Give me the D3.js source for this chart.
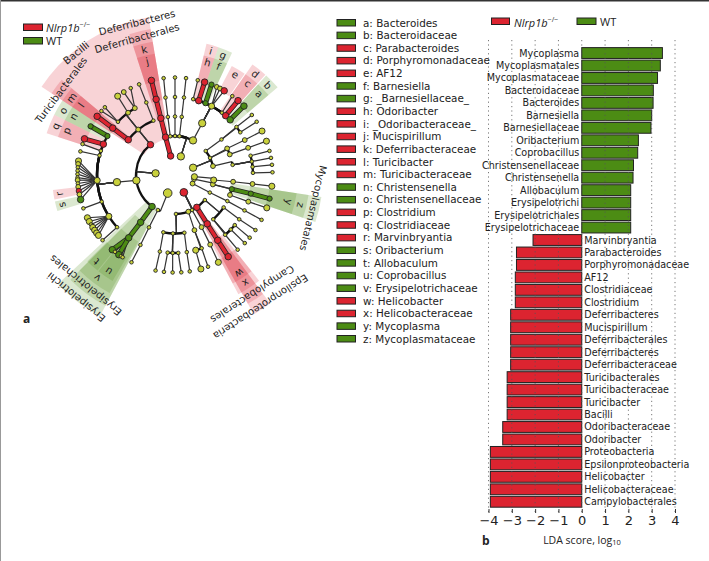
<!DOCTYPE html>
<html><head><meta charset="utf-8">
<script src="https://cdnjs.cloudflare.com/ajax/libs/d3/7.8.5/d3.min.js"></script>
<style>html,body{margin:0;padding:0;background:#fff}svg{display:block}text{font-family:"DejaVu Sans",sans-serif;fill:#222}</style>
</head><body><div id="chart"></div>
<script>
// ---- bar chart data ----
const barNames = ["Mycoplasma","Mycoplasmatales","Mycoplasmataceae","Bacteroidaceae","Bacteroides","Barnesiella","Barnesiellaceae","Oribacterium","Coprobacillus","Christensenellaceae","Christensenella","Allobaculum","Erysipelotrichi","Erysipelotrichales","Erysipelotrichaceae","Marvinbryantia","Parabacteroides","Porphyromonadaceae","AF12","Clostridiaceae","Clostridium","Deferribacteres","Mucispirillum","Deferribacterales","Deferribacteres","Deferribacteraceae","Turicibacterales","Turicibacteraceae","Turicibacter","Bacilli","Odoribacteraceae","Odoribacter","Proteobacteria","Epsilonproteobacteria","Helicobacter","Helicobacteraceae","Campylobacterales"];
const barValues = [3.46,3.37,3.25,3.07,3.06,3.0,2.97,2.43,2.4,2.22,2.2,2.1,2.1,2.1,2.1,-2.09,-2.8,-2.8,-2.85,-2.85,-2.85,-3.05,-3.05,-3.05,-3.05,-3.05,-3.2,-3.2,-3.2,-3.2,-3.39,-3.39,-3.92,-3.92,-3.92,-3.92,-3.92];
const ldaTicks = [-4,-3,-2,-1,0,1,2,3,4];
// ---- clade key ----
const keyNames = ["a: Bacteroides","b: Bacteroidaceae","c: Parabacteroides","d: Porphyromonadaceae","e: AF12","f: Barnesiella","g: _Barnesiellaceae_","h: Odoribacter","i: _Odoribacteraceae_","j: Mucispirillum","k: Deferribacteraceae","l: Turicibacter","m: Turicibacteraceae","n: Christensenella","o: Christensenellaceae","p: Clostridium","q: Clostridiaceae","r: Marvinbryantia","s: Oribacterium","t: Allobaculum","u: Coprobacillus","v: Erysipelotrichaceae","w: Helicobacter","x: Helicobacteraceae","y: Mycoplasma","z: Mycoplasmataceae"];
const keyGroups = "WWNNNWWNNNNNNWWNNNWWWWNNWW".split("");
const groupNames = {N:"Nlrp1b", W:"WT"};
// ---- taxonomy: [clade, parent, bearing in degrees, abundance class] ----
const clades = [
["root",null,0,0],
// Deferribacteres
["D1","root",-13,3],["D2","D1",-14,3],["D3","D2",-14,3],["k","D3",-14,3],["j","k",-14,3],
// Bacteroidetes
["B1","root",17.5,4],
["Ba2","B1",-7,1],["Ba3","Ba2",-7,1],["Ba4","Ba3",-7,1],["Ba5","Ba4",-6.7,1],
["Bb2","B1",0,1],["Bb3","Bb2",0,1],["Bb4","Bb3",0,1],["Bb5","Bb4",0,1],
["Bc2","B1",6.6,1],["Bc3","Bc2",6.6,1],["Bc4","Bc3",6.6,1],["Bc5","Bc4",6.5,1],
["Bd2","B1",27.5,4],["Bd3","Bd2",27.7,4],
["Be4","Bd3",13.5,1],["Be5","Be4",13.5,1],
["i","Bd3",17.7,3],["h","i",17.7,3],
["g","Bd3",23,2],["f","g",22,2],
["Bf4","Bd3",28,3],["Bf5","Bf4",25.4,2],["Bg5","Bf4",27.5,2],["e","Bf4",30.3,3],
["Bh4","Bd3",37,1],["Bh5","Bh4",36,1],
["d","Bd3",40.5,3],["c","d",40.3,3],
["b","Bd3",45,3],["a","b",45,3],
// Firmicutes
["F1","root",-85,4],
["Bac","F1",-39,3],
["Tur","Bac",-53,3],["m","Tur",-53,3],["l","m",-53,3],
["Lac","Bac",-39,2],
["La4","Lac",-47,1],["La5","La4",-46,1],["Lb5","La4",-49,1],
["Lb4","Lac",-37,2],["Lc5","Lb4",-36,3],
["Lc4","Lac",-31,2],["Ld5","Lc4",-31.7,2],["Le5","Lc4",-27,1],
["Bcl","Bac",-21.7,1],["Bl4","Bcl",-21.6,1],["Bl5","Bl4",-21.6,1],
["Clo","F1",-98,4],["Cl3","Clo",-97,4],
["o","Cl3",-60,2],["n","o",-60,2],
["q","Cl3",-66.7,3],["p","q",-68.2,3],
["Cc4","Cl3",-72,1],["Cc5","Cc4",-71.5,1],
["Cd4","Cl3",-75.5,1],["Cd5","Cd4",-76,1],
["Lch","Cl3",-94,3],
["Lh1","Lch",-81.7,3],["Lh2","Lch",-83.5,2],["Lh3","Lch",-85.5,1],["Lh4","Lch",-87.5,1],["Lh5","Lch",-89.5,1],["Lh6","Lch",-91.5,1],["Lh7","Lch",-93,2],["Lh8","Lch",-95,1],["Lh9","Lch",-97,2],["r","Lch",-99.4,2],["Lh10","Lch",-101.5,2],["s","Lch",-104.6,3],
["Ce4","Cl3",-110,1],["Ce5","Ce4",-110,1],
["Rum","Cl3",-122,3],
["Ru1","Rum",-116,3],["Ru2","Rum",-118.5,3],["Ru3","Rum",-120.5,1],["Ru4","Rum",-122.5,3],["Ru5","Rum",-124.5,3],["Ru6","Rum",-126.5,3],["Ru7","Rum",-128.3,3],
["Cf4","Cl3",-132,1],["Cf5","Cf4",-132,1],
["Ery","F1",-144,3],["Er3","Ery",-144,3],["v","Er3",-143.6,3],
["t","v",-140,3],["u","v",-144.8,3],["Ev1","v",-142,1],["Ev2","v",-146.3,1],["Ev3","v",-147.5,1],
// Actinobacteria-like chain
["P4","root",-158,5],["P4c","P4",-154,1],["P4o","P4c",-153.6,1],["P4f","P4o",-153.7,1],["P4g","P4f",-153.5,1],
// Proteobacteria
["Pr","root",153,4],
["Pa2","Pr",178.6,1],
["Pa3","Pa2",191.5,1],["Pa4","Pa3",191.2,1],["Pa5","Pa4",191.5,1],
["Pb3","Pa2",182,1],["Pb4","Pb3",185.4,1],["Pb5","Pb4",186.5,1],["Pc4","Pb3",181.7,1],["Pc5","Pc4",181.4,1],["Pd4","Pb3",177.6,1],["Pd5","Pd4",176.3,1],
["Pe3","Pa2",170.8,1],["Pe4","Pe3",171.3,1],["Pe5","Pe4",171.3,1],
["Pf2","Pr",160,2],["Pf3","Pf2",160.6,2],["Pf4","Pf3",164.6,3],["Pf5","Pf4",164.6,3],["Pg4","Pf3",160,1],["Pg5","Pg4",160.2,1],
["Ph2","Pr",154,1],["Ph3","Ph2",153,2],["Ph4","Ph3",153.2,2],["Ph5","Ph4",153.6,3],
["Eps","Pr",146,3],["Cam","Eps",146.6,3],["x","Cam",146.8,3],["w","x",146.9,3],
["Pi2","Pr",130,1],
["Pi3","Pi2",123.7,1],["Pi4","Pi3",124.6,1],["Pi5","Pi4",124.4,1],
["Pj3","Pi2",139.2,1],["Pj4","Pj3",130,1],["Pj5","Pj4",130,1],["Pk4","Pj3",134.3,1],["Pk5","Pk4",134.3,1],["Pl4","Pj3",140,1],["Pl5","Pl4",140,1],
// Right side phyla
["Q1","root",116,2],["Q2","Q1",116.8,1],["Q3","Q2",116.5,1],["Q4","Q3",117,1],["Q5","Q4",117.4,1],
["T1","root",102,2],["T2","T1",104,2],["Myc","T2",104,2],["z","Myc",103.8,2],["y","z",104,2],
["T3","T2",110,2],["T4","T3",110,2],["T5","T4",109.7,3],
["U1","root",95,3],["U2","U1",97.4,3],["U3","U2",96.6,2],["U4","U3",96.6,2],["U5","U4",96.6,3],
["V1","root",68,4],
["Va2","V1",52,1],["Va3","Va2",52.6,1],["Va4","Va3",52,1],["Va5","Va4",52,1],["Vb4","Va3",56.8,1],["Vb5","Vb4",56.9,1],
["Vc2","V1",64,1],["Vc3","Vc2",63,2],["Vc4","Vc3",63.4,2],["Vc5","Vc4",63.2,3],
["Vd3","Vc2",69.4,2],["Vd4","Vd3",69.6,2],["Vd5","Vd4",69.7,3],
["Ve2","V1",76.8,2],["Ve3","Ve2",80,1],
["Ve4","Ve3",75.7,1],["Ve5","Ve4",75.7,1],["Vf4","Ve3",80,1],["Vf5","Vf4",79.9,1],["Vg4","Ve3",84,1],["Vg5","Vg4",84,1],["Vh4","Ve3",88.4,1],["Vh5","Vh4",88.4,1]
];
const nlrpClades = ["D1","D2","D3","k","j","i","h","e","d","c","Bac","Tur","m","l","q","p","r","Pr","Eps","Cam","x","w"];
const wtClades = ["g","f","b","a","o","n","s","Ery","Er3","v","t","u","Myc","z","y"];
// highlighted clades: [clade, bearing from, bearing to, label, label bearing]
const cladeBands = [
["Bac",-56.5,-18,"Bacilli",-39],["D2",-18,-9.5,"Deferribacteres",-14],["D3",-18,-9.5,"Deferribacterales",-15.5],["k",-18,-9.5,"k"],["j",-18,-9.5,"j"],
["Tur",-56.5,-50,"Turicibacterales"],["m",-56.5,-50,"m"],["l",-56.5,-50,"l"],
["o",-63.5,-56.5,"o"],["n",-63.5,-56.5,"n"],
["q",-72,-63.5,"q"],["p",-72,-63.5,"p"],
["r",-101.5,-97,"r"],["s",-107,-102.5,"s"],
["Ery",-152,-133,"Erysipelotrichi",-141],["Er3",-152,-135,"Erysipelotrichales",-141],["v",-151,-135,"v"],["t",-141,-134.5,"t"],["u",-149.5,-141.5,"u"],
["Eps",143.5,150.5,"Epsilonproteobacteria",147],["Cam",143.5,150.5,"Campylobacterales",147],["x",141.5,152,"x"],["w",141.5,152,"w"],
["Myc",98.5,108.5,"Mycoplasmatales"],["z",98.5,108.5,"z"],["y",98.5,108.5,"y"],
["b",42.5,49.5,"b"],["a",42.5,49.5,"a"],["d",35,42,"d"],["c",35,42,"c"],["e",27.5,34.5,"e"],
["g",18.7,25,"g"],["f",18.7,25,"f"],["i",13.5,18.7,"i"],["h",13.5,18.7,"h"]
];
// ---- drawing ----
const W=709,H=561;
const COL={N:"#dc2430",W:"#4c8c14"}, NODE="#c9d13c";
const svg=d3.select("#chart").append("svg").attr("width",W).attr("height",H);
svg.append("rect").attr("x",0).attr("y",0).attr("width",W).attr("height",1.5).attr("fill","#333");
svg.append("rect").attr("x",0).attr("y",0).attr("width",1).attr("height",H).attr("fill","#999");

// --- cladogram
const cx=175, cy=175;
const plot=svg.append("g").attr("transform",`translate(${cx},${cy})`);
const rad=d3.scaleLinear().domain([0,5]).range([0,97.5]);
const ang=d=>d*Math.PI/180;
const px=(b,r)=>r*Math.sin(ang(b)), py=(b,r)=>-r*Math.cos(ang(b));
const root=d3.stratify().id(d=>d[0]).parentId(d=>d[1])(clades);
const byId=new Map(root.descendants().map(n=>[n.id,n]));
const group=id=>nlrpClades.includes(id)?"N":wtClades.includes(id)?"W":null;
const bandOuter=d3.scaleOrdinal().domain([5,4,3,2]).range([123,135,148,160]);
const labelR=d3.scaleOrdinal().domain([5,4,3,2]).range([117,129,142,157]);
const arc=d3.arc();
cladeBands.forEach(([id,b0,b1])=>{
  const n=byId.get(id), g=group(id);
  plot.append("path").attr("fill",COL[g]).attr("fill-opacity",0.2)
    .attr("d",arc({innerRadius:rad(n.depth)-2,outerRadius:bandOuter(n.depth),startAngle:ang(b0),endAngle:ang(b1)}));
});
cladeBands.forEach(([id,b0,b1,label,lb])=>{
  const n=byId.get(id), mid=lb===undefined?(b0+b1)/2:lb, r=labelR(n.depth);
  plot.append("text").attr("transform",`translate(${px(mid,r)},${py(mid,r)}) rotate(${mid})`)
    .attr("text-anchor","middle").attr("dominant-baseline","central")
    .attr("font-size",10.1).text(label);
});
const links=plot.append("g").attr("fill","none"), hot=plot.append("g").attr("fill","none");
root.descendants().filter(n=>n.depth>=2).forEach(n=>{
  const p=n.parent, pb=p.data[2], cb=n.data[2], rp=rad(p.depth), rc=rad(n.depth);
  const gc=group(n.id), gp=group(p.id);
  const coloured=gc&&gc===gp&&(n.depth===5||Math.abs(pb-cb)<3);
  if(n.depth===5||Math.abs(pb-cb)<1.5){
    const sel=coloured?hot:links;
    const d=d3.line()([[px(pb,rp),py(pb,rp)],[px(cb,rc),py(cb,rc)]]);
    if(coloured){
      sel.append("path").attr("d",d).attr("stroke","#222").attr("stroke-width",5);
      sel.append("path").attr("d",d).attr("stroke",COL[gc]).attr("stroke-width",3.4);
    } else sel.append("path").attr("d",d).attr("stroke","#333").attr("stroke-width",1.2);
  } else {
    links.append("path").attr("stroke","#333").attr("stroke-width",1.2)
      .attr("d",d3.line()([[px(pb,rp),py(pb,rp)],[px(pb,rc),py(pb,rc)]]));
    links.append("path").attr("stroke","#111").attr("stroke-width",2.3)
      .attr("d",arc({innerRadius:rc,outerRadius:rc,startAngle:ang(Math.min(pb,cb)),endAngle:ang(Math.max(pb,cb))}));
  }
});
const sizeScale=d3.scaleLinear().domain([1,5]).range([1.8,4.3]);
plot.append("g").selectAll("circle").data(root.descendants().filter(n=>n.depth>0)).join("circle")
  .attr("cx",n=>px(n.data[2],rad(n.depth))).attr("cy",n=>py(n.data[2],rad(n.depth)))
  .attr("r",n=>sizeScale(n.data[3])+(group(n.id)?0.2:0))
  .attr("fill",n=>group(n.id)?COL[group(n.id)]:NODE)
  .attr("stroke","#222").attr("stroke-width",0.9);

// --- legends
function groupLabel(sel,k,x,y){
  const t=sel.append("text").attr("x",x).attr("y",y).attr("font-size",11)
    .style("font-family","'Open Sans',sans-serif").attr("dominant-baseline","central");
  if(k==="N"){
    t.append("tspan").attr("font-style","italic").text(groupNames.N);
    t.append("tspan").attr("font-size",7).attr("dy",-3).text("\u2212/\u2212");
  } else t.text(groupNames.W);
}
function swatch(x,y,w,h,k){
  svg.append("rect").attr("x",x).attr("y",y).attr("width",w).attr("height",h)
    .attr("fill",COL[k]).attr("stroke","#222").attr("stroke-width",1);
}
swatch(23.5,24,19,6.5,"N"); groupLabel(svg,"N",46,27);
swatch(23.5,37.5,19,6.5,"W"); groupLabel(svg,"W",46,40.5);
swatch(491.5,18,18,6.5,"N"); groupLabel(svg,"N",514,21.5);
swatch(577,18,19,6.5,"W"); groupLabel(svg,"W",600,21.5);

const keyY=d3.scalePoint().domain(d3.range(keyNames.length)).range([22.5,338.5]);
keyNames.forEach((s,i)=>{
  swatch(337,keyY(i)-3,18.5,6.5,keyGroups[i]);
  svg.append("text").attr("x",363).attr("y",keyY(i)).attr("font-size",10.4)
    .attr("dominant-baseline","central").text(s);
});

// --- bars
const x=d3.scaleLinear().domain([-4,4]).range([488.5,675]);
const y=d3.scaleBand().domain(d3.range(barNames.length)).range([46.8,508]).paddingInner(0.13).paddingOuter(0.065);
svg.append("g").selectAll("rect").data(barValues).join("rect")
  .attr("x",d=>x(Math.min(0,d))).attr("width",d=>Math.abs(x(d)-x(0)))
  .attr("y",(d,i)=>y(i)).attr("height",y.bandwidth())
  .attr("fill",d=>d>0?COL.W:COL.N).attr("stroke","#222").attr("stroke-width",1);
svg.append("g").selectAll("line").data(ldaTicks).join("line")
  .attr("x1",d=>x(d)).attr("x2",d=>x(d)).attr("y1",40).attr("y2",513)
  .attr("stroke","#555").attr("stroke-width",0.8).attr("stroke-dasharray","1.2,3.2");
svg.append("g").selectAll("text").data(barNames).join("text")
  .attr("x",(d,i)=>barValues[i]>0?x(0)-2.5:x(0)+2.5)
  .attr("y",(d,i)=>y(i)+y.bandwidth()/2)
  .attr("text-anchor",(d,i)=>barValues[i]>0?"end":"start")
  .attr("dominant-baseline","central").attr("font-size",9.6).text(d=>d);
const ax=svg.append("g").attr("transform","translate(0,509)")
  .call(d3.axisBottom(x).tickValues(ldaTicks).tickSize(4).tickPadding(3).tickFormat(d=>d<0?"\u2212"+(-d):""+d));
ax.select(".domain").remove();
ax.selectAll("line").attr("stroke","#333");
ax.selectAll("text").attr("font-size",13).style("font-family","'DejaVu Sans',sans-serif").attr("fill","#222");
const axt=svg.append("text").attr("x",582).attr("y",539.5).attr("text-anchor","middle").attr("font-size",10.5)
  .style("font-family","'Open Sans',sans-serif").attr("dominant-baseline","central");
axt.append("tspan").text("LDA score, log");
axt.append("tspan").attr("font-size",7.5).attr("dy",2.5).text("10");
svg.append("text").attr("x",23).attr("y",318).attr("font-weight","bold").attr("font-size",12).style("font-family","'Open Sans',sans-serif").attr("dominant-baseline","central").text("a");
svg.append("text").attr("x",482).attr("y",540).attr("font-weight","bold").attr("font-size",12).style("font-family","'Open Sans',sans-serif").attr("dominant-baseline","central").text("b");
</script></body></html>
